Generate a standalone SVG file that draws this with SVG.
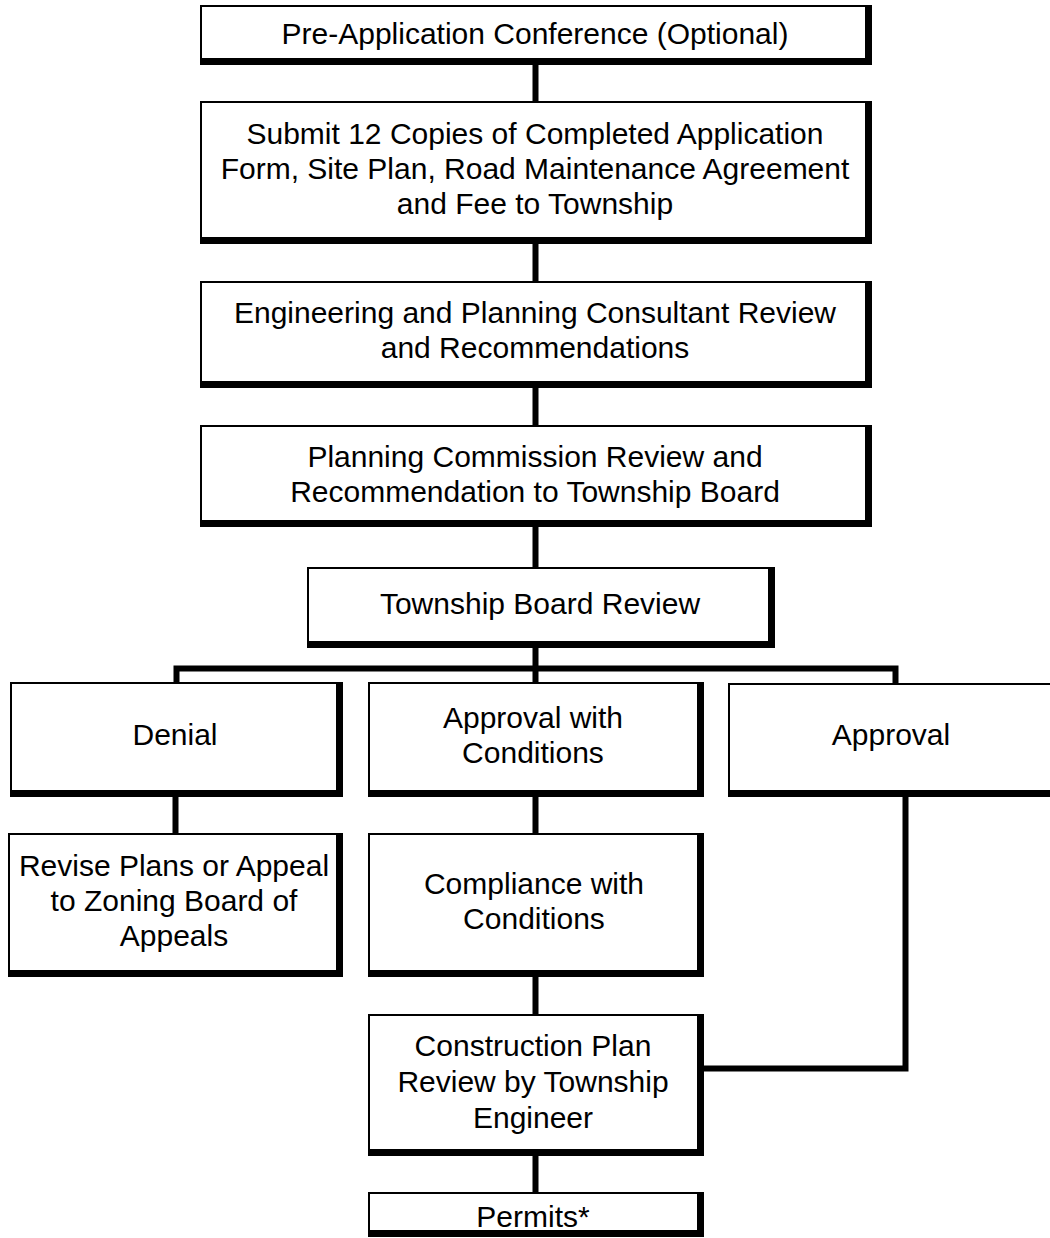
<svg xmlns="http://www.w3.org/2000/svg" width="1050" height="1238" viewBox="0 0 1050 1238">
<style>
.o{fill:#000}
.i{fill:#fff}
.t{font-family:"Liberation Sans",Arial,sans-serif;font-size:30px;fill:#000;text-anchor:middle}
.c{fill:none;stroke:#000;stroke-width:6;stroke-linejoin:miter;stroke-linecap:butt}
</style>
<rect width="1050" height="1238" fill="#fff"/>
<g id="connectors">
<path class="c" d="M535.5,65V101M535.5,244V281M535.5,388V425M535.5,527V567M535.5,645V683"/>
<path class="c" d="M176.5,683V668.5H895.5V685"/>
<path class="c" d="M175.5,797V833M535.5,797V833M535.5,975V1014M535.5,1155V1192"/>
<path class="c" d="M905.5,797V1068.5H704"/>
</g>
<g id="n1"><rect class="o" x="200" y="5" width="672" height="60"/><rect class="i" x="202" y="7" width="663" height="51"/>
<text class="t" x="535" y="44">Pre-Application Conference (Optional)</text></g>
<g id="n2"><rect class="o" x="200" y="101" width="672" height="143"/><rect class="i" x="202" y="103" width="663" height="134"/>
<text class="t" x="535" y="144">Submit 12 Copies of Completed Application</text>
<text class="t" x="535" y="179">Form, Site Plan, Road Maintenance Agreement</text>
<text class="t" x="535" y="214">and Fee to Township</text></g>
<g id="n3"><rect class="o" x="200" y="281" width="672" height="107"/><rect class="i" x="202" y="283" width="663" height="98"/>
<text class="t" x="535" y="323">Engineering and Planning Consultant Review</text>
<text class="t" x="535" y="358">and Recommendations</text></g>
<g id="n4"><rect class="o" x="200" y="425" width="672" height="102"/><rect class="i" x="202" y="427" width="663" height="93"/>
<text class="t" x="535" y="467">Planning Commission Review and</text>
<text class="t" x="535" y="502">Recommendation to Township Board</text></g>
<g id="n5"><rect class="o" x="307" y="567" width="468" height="81"/><rect class="i" x="309" y="569" width="459" height="72"/>
<text class="t" x="540" y="614">Township Board Review</text></g>
<g id="n6"><rect class="o" x="10" y="682" width="333" height="115"/><rect class="i" x="12" y="684" width="324" height="106"/>
<text class="t" x="175" y="745">Denial</text></g>
<g id="n7"><rect class="o" x="368" y="682" width="336" height="115"/><rect class="i" x="370" y="684" width="327" height="106"/>
<text class="t" x="533" y="728">Approval with</text>
<text class="t" x="533" y="763">Conditions</text></g>
<g id="n8"><rect class="o" x="728" y="683" width="330" height="114"/><rect class="i" x="730" y="685" width="321" height="105"/>
<text class="t" x="891" y="745">Approval</text></g>
<g id="n9"><rect class="o" x="8" y="833" width="335" height="144"/><rect class="i" x="10" y="835" width="326" height="135"/>
<text class="t" x="174" y="876">Revise Plans or Appeal</text>
<text class="t" x="174" y="911">to Zoning Board of</text>
<text class="t" x="174" y="946">Appeals</text></g>
<g id="n10"><rect class="o" x="368" y="833" width="336" height="144"/><rect class="i" x="370" y="835" width="327" height="135"/>
<text class="t" x="534" y="894">Compliance with</text>
<text class="t" x="534" y="929">Conditions</text></g>
<g id="n11"><rect class="o" x="368" y="1014" width="336" height="142"/><rect class="i" x="370" y="1016" width="327" height="133"/>
<text class="t" x="533" y="1056">Construction Plan</text>
<text class="t" x="533" y="1092">Review by Township</text>
<text class="t" x="533" y="1128">Engineer</text></g>
<g id="n12"><rect class="o" x="368" y="1192" width="336" height="45"/><rect class="i" x="370" y="1194" width="327" height="36"/>
<text class="t" x="533" y="1227">Permits*</text></g>
</svg>
